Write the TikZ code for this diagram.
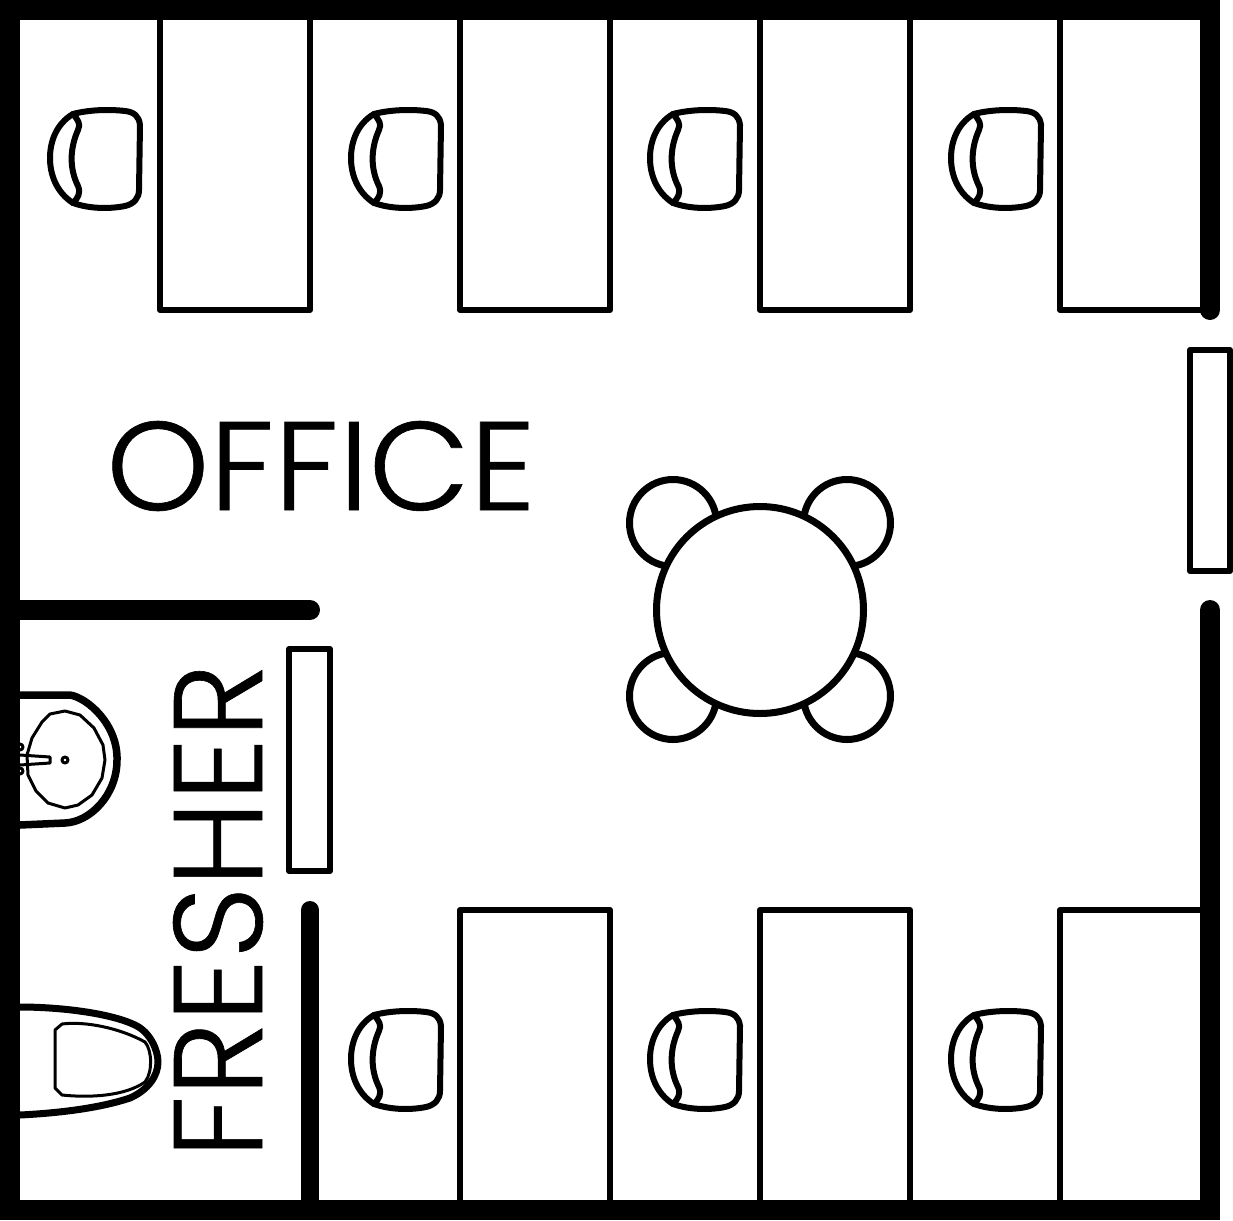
\documentclass[tikz,border=0pt]{standalone}
\usepackage{fontspec}
\setmainfont[UprightFont=* Light,FakeBold=0]{Poppins}
\newfontfamily\labelfont[UprightFeatures={FakeBold=0.5}]{Poppins Light}
\tikzset{
  wall/.style={line width=20pt,line cap=round},
  outerwall/.style={line width=20pt,line cap=butt},
  furn/.style={line width=6pt,line join=round,fill=white},
  round furn/.style={line width=7pt,fill=white},
  thin/.style={line width=3pt,line join=round},
  chairline/.style={line width=6pt,line join=round,line cap=round},
  label/.style={inner sep=0pt,font=\labelfont\fontsize{126pt}{126pt}\selectfont},
  chair/.pic={
    \draw[chairline,fill=white] (73,114) .. controls (56,124) and (50,142) .. (50,158)
      .. controls (50,174) and (56,192) .. (73,203)
      .. controls (90,209) and (110,209) .. (125,206)
      .. controls (134,204) and (139,198) .. (139,190)
      -- (140,125) .. controls (139,116) and (134,112) .. (125,111)
      .. controls (108,109) and (88,110) .. (73,114) -- cycle;
    \draw[chairline] (73,114) .. controls (78,120) and (81,124) .. (78,130)
      .. controls (70,148) and (69,168) .. (78,186)
      .. controls (81,193) and (78,198) .. (73,203);
  }
}
\begin{document}
\begin{tikzpicture}[x=1pt,y=-1pt]
\useasboundingbox (0,0) rectangle (1233,1220);
% desks
\foreach \a/\b in {160/310,460/610,760/910,1060/1205}{
  \draw[furn] (\a,10) rectangle (\b,310);
}
\foreach \a/\b in {460/610,760/910,1060/1205}{
  \draw[furn] (\a,910) rectangle (\b,1210);
}
% chairs
\foreach \d in {0,301,600,901}{ \pic at (\d,0) {chair}; }
\foreach \d in {301,600,901}{ \pic at (\d,901) {chair}; }
% walls
\draw[outerwall] (10,0) -- (10,1220);
\draw[outerwall] (0,10) -- (1220,10);
\draw[outerwall] (0,1210) -- (1220,1210);
\draw[wall] (1210,10) -- (1210,310);
\draw[wall] (1210,610) -- (1210,1210);
\draw[wall] (10,610) -- (310,610);
\draw[line width=18pt,line cap=round] (310,910) -- (310,1205);
% doors
\draw[furn] (1190,350) rectangle (1230,571);
\draw[furn] (289,649) rectangle (330,871);
% table with stools
\foreach \x/\y in {673/523,847/523,673/696,847/696}{
  \draw[round furn] (\x,\y) circle (43.5);
}
\draw[round furn] (760,610) circle (103.5);
% sink
\draw[line width=7.5pt] (20,695) -- (70,695) .. controls (88,698) and (118,725) .. (117,760)
  .. controls (117,795) and (90,822) .. (65,823) -- (20,825);
\draw[thin] (65,711) -- (80,715) -- (94,728) -- (103,745) -- (105,760) -- (102,778) -- (92,795) -- (78,805) -- (65,808) -- (48,803) -- (36,791) -- (28,775) -- (27,755) -- (32,738) -- (42,722) -- (50,714) -- cycle;
\draw[thin] (20,755) -- (50,757) -- (50,763) -- (20,765);
\draw[thin] (65,760) circle (3);
\draw[thin] (20,747) circle (3);
\draw[thin] (20,771) circle (3);
% toilet
\draw[line width=7pt,line join=round] (20,1007) .. controls (60,1007) and (110,1013) .. (135,1025)
  .. controls (150,1032) and (158,1050) .. (158,1062)
  .. controls (158,1076) and (148,1090) .. (130,1098)
  .. controls (100,1108) and (60,1113) .. (20,1115);
\draw[thin] (55,1030) -- (62,1024) .. controls (85,1021) and (120,1028) .. (145,1042)
  .. controls (152,1050) and (153,1072) .. (145,1082)
  .. controls (125,1096) and (90,1098) .. (62,1095) -- (55,1088) -- cycle;
% labels
\node[label,anchor=center,xscale=1.04] (office) at (321,466) {OFFICE};
\node[label,anchor=center,rotate=90] (fresher) at (218,911) {FRESHER};
\end{tikzpicture}
\end{document}
